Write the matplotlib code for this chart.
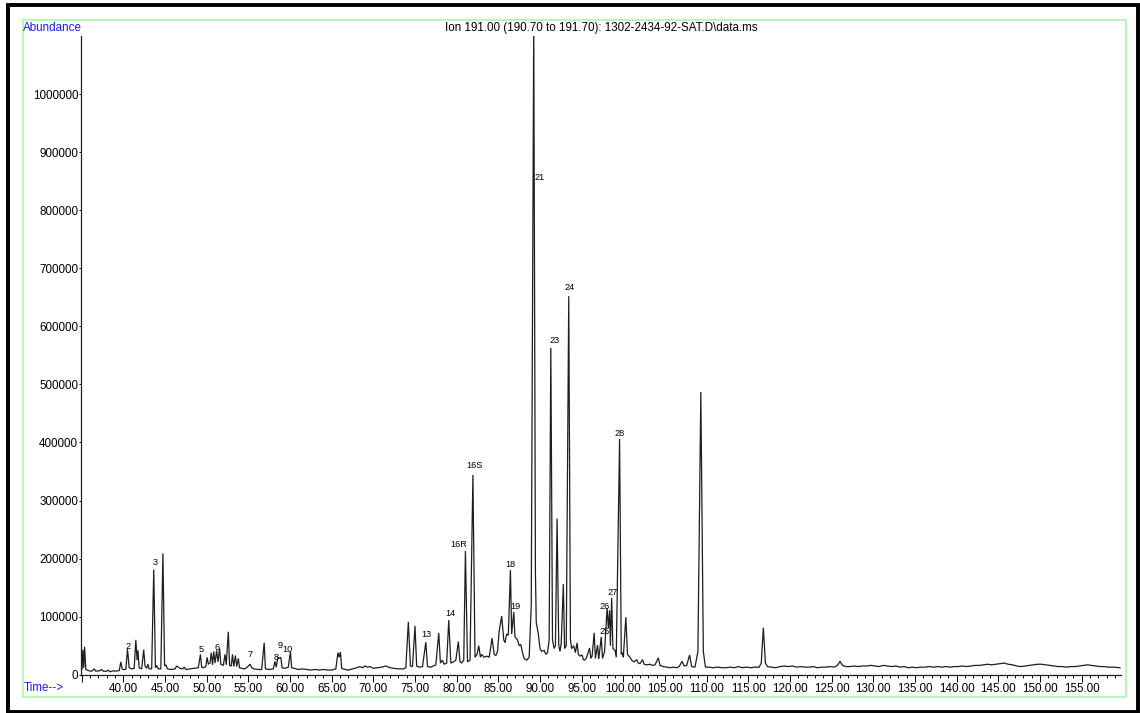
import matplotlib
matplotlib.use('Agg')
import matplotlib.pyplot as plt
from matplotlib.patches import Rectangle
from matplotlib.ticker import MultipleLocator, FixedLocator, FuncFormatter

plt.rcParams['font.family'] = ['Liberation Sans', 'DejaVu Sans']

# chromatogram trace (time in min, abundance in thousands)
early_t = [34.9, 35.05, 35.15, 35.25, 35.35, 35.5, 35.8, 36.2, 36.5, 36.7, 37.2, 37.4, 37.6, 38.0, 38.2,
           38.4, 38.8, 39.0, 39.5, 39.7, 39.85, 40.0, 40.3, 40.5, 40.7, 41.0, 41.3, 41.5, 41.65, 41.75,
           41.9, 42.2, 42.45, 42.6, 42.8, 42.95, 43.1, 43.4, 43.65, 43.85, 44.0, 44.2, 44.5, 44.75, 44.95,
           45.1, 45.3, 45.8, 46.2, 46.4, 46.6, 46.8, 47.1, 47.3, 47.5, 48.0, 48.5, 49.0, 49.25, 49.4,
           49.6, 49.9, 50.05, 50.2, 50.4, 50.55, 50.7, 50.85, 51.0, 51.2, 51.35, 51.55, 51.7, 52.0, 52.2,
           52.35, 52.6, 52.75, 52.95, 53.1, 53.25, 53.45, 53.6, 53.8, 53.95, 54.2, 54.5, 54.8, 55.0, 55.2,
           55.4, 55.7, 56.2, 56.6, 56.9, 57.05, 57.5, 58.0, 58.2, 58.35, 58.55, 58.7, 58.9, 59.05, 59.4,
           59.8, 60.05, 60.2, 60.5, 61.0, 61.5, 62.0, 62.5, 63.0, 63.5, 64.0, 64.5, 65.0, 65.5, 65.75,
           65.9, 66.05, 66.2, 66.6, 67.0, 67.5, 68.0, 68.4, 68.7, 69.0, 69.3, 69.6, 70.0, 70.5, 71.0,
           71.5, 72.0, 72.5, 73.0, 73.6]
early_a = [8, 10, 43, 12, 48, 9, 7, 6, 10, 6, 7, 9, 6, 6, 8,
           5, 7, 6, 7, 22, 10, 9, 9, 44, 12, 10, 11, 60, 25, 42,
           12, 10, 43, 15, 11, 18, 10, 10, 181, 12, 16, 10, 10, 209, 15,
           17, 10, 9, 10, 15, 13, 11, 10, 13, 9, 10, 11, 12, 35, 13,
           12, 14, 30, 18, 20, 38, 17, 40, 20, 42, 22, 45, 18, 16, 35,
           17, 74, 16, 15, 35, 14, 33, 14, 28, 12, 11, 10, 12, 15, 18,
           12, 10, 9, 9, 55, 10, 9, 10, 23, 13, 30, 28, 30, 12, 11,
           13, 40, 12, 11, 9, 10, 9, 8, 9, 8, 9, 8, 8, 10, 38,
           30, 39, 11, 9, 8, 10, 12, 14, 12, 15, 13, 14, 11, 12, 13,
           15, 12, 11, 10, 10]

mid_t = [73.9, 74.2, 74.45, 74.7, 75.0, 75.2, 75.5, 75.9, 76.3, 76.5, 76.9, 77.2, 77.5, 77.85, 78.05,
         78.3, 78.5, 78.8, 79.05, 79.3, 79.6, 79.9, 80.2, 80.4, 80.6, 80.85, 81.05, 81.3, 81.6, 81.95,
         82.2, 82.45, 82.65, 82.85, 83.0, 83.3, 83.6, 83.9, 84.25, 84.5, 84.7, 84.9, 85.1, 85.4, 85.65,
         85.8, 86.0, 86.2, 86.45, 86.6, 86.85, 87.0, 87.3, 87.5, 87.7, 87.9, 88.1, 88.4, 88.7, 88.95,
         89.25, 89.45, 89.55, 89.8, 90.0, 90.2, 90.5, 90.7, 90.9, 91.1, 91.3, 91.5, 91.7, 91.85, 92.05,
         92.25, 92.4, 92.55, 92.8, 92.95, 93.15, 93.45, 93.65, 93.8, 94.05, 94.25, 94.45, 94.6, 94.8, 95.05,
         95.2, 95.4, 95.6, 95.95, 96.1, 96.25, 96.5, 96.65, 96.9, 97.05, 97.35, 97.5, 97.75, 98.05, 98.2,
         98.35, 98.45, 98.6, 98.75, 99.0, 99.15, 99.55, 99.75, 99.9, 100.0, 100.3, 100.5, 100.8, 101.0, 101.3,
         101.6, 101.8, 102.0, 102.3, 102.5, 102.8, 103.2, 103.5, 103.8, 104.2, 104.4, 104.8, 105.2, 105.6, 106.0,
         106.4, 106.7, 107.05, 107.3, 107.6, 107.95, 108.2, 108.6, 108.95, 109.3, 109.6, 109.85]
mid_a = [12, 91, 15, 14, 84, 15, 13, 14, 56, 14, 13, 15, 17, 72, 20,
         25, 18, 20, 94, 20, 22, 25, 57, 22, 20, 25, 213, 22, 25, 344,
         30, 35, 50, 30, 35, 30, 32, 30, 63, 35, 33, 40, 75, 101, 60,
         55, 70, 68, 180, 70, 108, 65, 60, 50, 52, 38, 28, 25, 30, 120,
         1120, 177, 90, 70, 45, 40, 42, 35, 38, 60, 563, 60, 45, 50, 269,
         50, 40, 55, 156, 45, 50, 652, 60, 45, 50, 38, 55, 35, 32, 34,
         26, 25, 30, 46, 28, 32, 72, 28, 51, 27, 65, 28, 40, 115, 80,
         111, 50, 132, 45, 42, 30, 406, 35, 38, 30, 99, 35, 30, 25, 22,
         26, 20, 19, 26, 18, 17, 18, 16, 17, 29, 16, 14, 13, 12, 13,
         12, 14, 23, 15, 16, 34, 14, 13, 40, 487, 40, 13]

late_t = [110.3, 110.8, 111.3, 111.8, 112.3, 112.8, 113.3, 113.8, 114.3, 114.8, 115.3, 115.8, 116.3, 116.55, 116.8,
          117.05, 117.3, 117.8, 118.3, 118.8, 119.3, 119.8, 120.3, 120.8, 121.3, 121.8, 122.3, 122.8, 123.3, 123.8,
          124.3, 124.8, 125.3, 125.7, 126.0, 126.3, 126.7, 127.2, 127.7, 128.2, 128.7, 129.2, 129.7, 130.2, 130.7,
          131.2, 131.7, 132.2, 132.7, 133.2, 133.7, 134.2, 134.7, 135.2, 135.7, 136.2, 136.7, 137.2, 137.7, 138.2,
          138.7, 139.2, 139.7, 140.2, 140.7, 141.2, 141.7, 142.2, 142.7, 143.2, 143.7, 144.2, 144.7, 145.2, 145.7,
          146.2, 146.7, 147.2, 147.7, 148.2, 148.7, 149.2, 149.7, 150.2, 150.7, 151.2, 151.7, 152.2, 152.7, 153.2,
          153.7, 154.2, 154.7, 155.2, 155.7, 156.2, 156.7, 157.2, 157.7, 158.2, 158.8, 159.6]
late_a = [13, 12, 13, 12, 12, 13, 12, 14, 12, 13, 12, 13, 13, 20, 81,
          20, 14, 13, 12, 14, 15, 14, 15, 13, 14, 13, 13, 14, 12, 13,
          13, 14, 13, 16, 23, 16, 14, 14, 15, 14, 15, 15, 16, 15, 14,
          16, 15, 14, 15, 13, 14, 12, 13, 12, 13, 13, 14, 13, 14, 13,
          14, 13, 14, 14, 15, 14, 15, 16, 16, 17, 18, 17, 18, 19, 20,
          18, 17, 15, 14, 15, 16, 17, 18, 18, 17, 16, 15, 14, 14, 13,
          14, 14, 15, 16, 17, 16, 15, 14, 14, 13, 13, 12]

# peak labels
peak_names = ['2', '3', '5', '6', '7', '8', '9', '10', '13', '14', '16R', '16S',
              '18', '19', '21', '23', '24', '25', '26', '27', '28']
peak_t = [40.6, 43.8, 49.3, 51.2, 55.2, 58.3, 58.8, 59.65, 76.4, 79.2, 80.2, 82.1,
          86.5, 87.1, 89.9, 91.7, 93.6, 97.7, 97.7, 98.7, 99.6]
peak_a = [48, 194, 44, 46, 34, 29, 51, 43, 70, 106, 225, 360,
          189, 117, 857, 575, 666, 75, 118, 142, 415]

y_ticks = [0, 100000, 200000, 300000, 400000, 500000, 600000, 700000, 800000, 900000, 1000000]

W, H = 1140, 713
fig = plt.figure(figsize=(W / 100, H / 100), dpi=100)
ax = fig.add_axes([81 / W, 1 - 674.7 / H, 1040 / W, 638.7 / H])

t = early_t + mid_t + late_t
a = [v * 1000 for v in early_a + mid_a + late_a]
ax.plot(t, a, color='#1e1e1e', lw=0.9, solid_joinstyle='miter')

for name, x, y in zip(peak_names, peak_t, peak_a):
    ax.text(x, y * 1000, name, fontsize=6.6, ha='center', va='center', color='black')

ax.set_xlim(34.92, 159.72)
ax.set_ylim(0, 1100000)
ax.spines['top'].set_visible(False)
ax.spines['right'].set_visible(False)
for s in ['left', 'bottom']:
    ax.spines[s].set_linewidth(0.9)
    ax.spines[s].set_color('#202020')

ax.xaxis.set_major_locator(MultipleLocator(5))
ax.xaxis.set_minor_locator(MultipleLocator(1))
ax.xaxis.set_major_formatter(FuncFormatter(lambda v, p: '%.2f' % v if v >= 40 else ''))
ax.yaxis.set_major_locator(FixedLocator(y_ticks))
ax.yaxis.set_major_formatter(FuncFormatter(lambda v, p: '%d' % v))
ax.tick_params(axis='x', which='major', length=4.8, width=0.7, pad=1.2, labelsize=8.4)
ax.tick_params(axis='x', which='minor', length=2.4, width=0.7)
ax.tick_params(axis='y', length=1.6, width=0.7, pad=0.4, labelsize=8.4)

fig.text(601 / W, 1 - 27.5 / H, 'Ion 191.00 (190.70 to 191.70): 1302-2434-92-SAT.D\\data.ms',
         fontsize=8.4, ha='center', va='center')
fig.text(22.7 / W, 1 - 28 / H, 'Abundance', fontsize=8.4, color='#1a1aff', ha='left', va='center')
fig.text(23.3 / W, 1 - 688 / H, 'Time-->', fontsize=8.4, color='#1a1aff', ha='left', va='center')

# green inner frame and black outer frame
fig.patches.append(Rectangle((22.7 / W, 1 - 696.7 / H), (1126.2 - 22.7) / W, (696.7 - 20) / H,
                             transform=fig.transFigure, fill=False, ec='#a6f7a6', lw=1.1))
fig.patches.append(Rectangle((8.4 / W, 1 - 712 / H), (1137.5 - 8.4) / W, (712 - 5.3) / H,
                             transform=fig.transFigure, fill=False, ec='black', lw=2.8))

fig.savefig('out.png', dpi=100)
